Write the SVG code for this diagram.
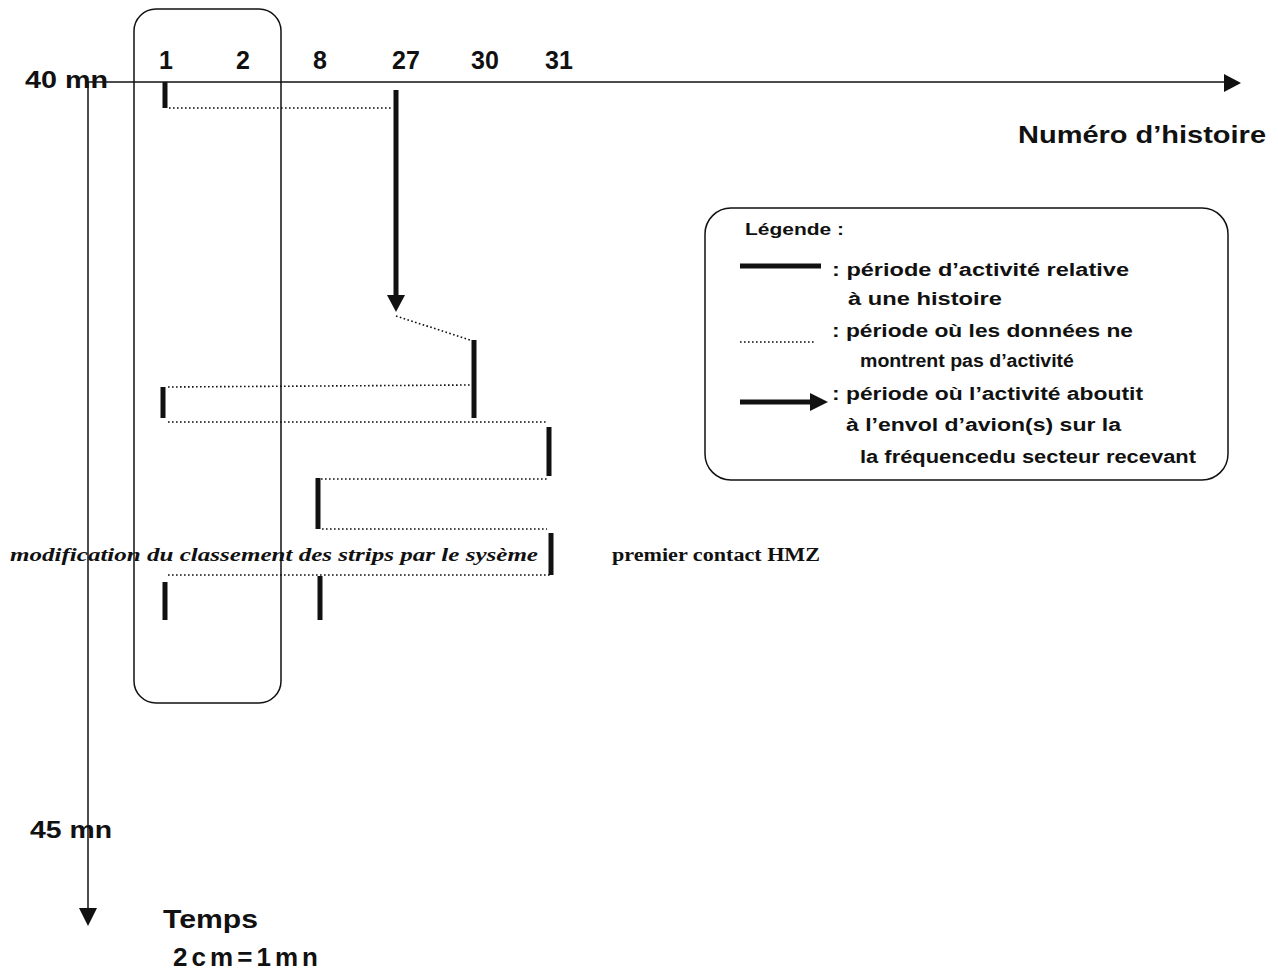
<svg xmlns="http://www.w3.org/2000/svg" width="1278" height="974" viewBox="0 0 1278 974">
<style>
.t{font-family:"Liberation Sans",Arial,sans-serif;font-weight:bold;fill:#111}
.s{font-family:"Liberation Serif","Times New Roman",serif;font-weight:bold;fill:#111}
.bar{stroke:#111;stroke-width:5;fill:none}
.dot{stroke:#111;stroke-width:1.6;stroke-dasharray:1.6 2.4;fill:none}
.thin{stroke:#111;stroke-width:1.5;fill:none}
</style>
<rect width="1278" height="974" fill="#fff"/>
<g id="axes">
<line class="thin" x1="88" y1="82" x2="1226" y2="82"/>
<path d="M1224,74 L1241,83 L1224,92 z" fill="#111"/>
<line class="thin" x1="88" y1="82" x2="88" y2="910"/>
<path d="M79,908 L97,908 L88,926 z" fill="#111"/>
<text class="t" x="25" y="88" font-size="24" textLength="83" lengthAdjust="spacingAndGlyphs">40 mn</text>
<text class="t" x="30" y="838" font-size="24" textLength="82" lengthAdjust="spacingAndGlyphs">45 mn</text>
<text class="t" x="1018" y="143" font-size="24" textLength="248" lengthAdjust="spacingAndGlyphs">Numéro d’histoire</text>
<text class="t" x="163" y="928" font-size="26" textLength="95" lengthAdjust="spacingAndGlyphs">Temps</text>
<text class="t" x="173" y="966" font-size="26" textLength="145" lengthAdjust="spacing">2cm=1mn</text>
</g>
<g id="labels" class="t" font-size="25" text-anchor="middle">
<text x="166" y="69">1</text>
<text x="243" y="69">2</text>
<text x="320" y="69">8</text>
<text x="406" y="69">27</text>
<text x="485" y="69">30</text>
<text x="559" y="69">31</text>
</g>
<g id="group-box">
<rect class="thin" x="134" y="9" width="147" height="694" rx="22"/>
</g>
<g id="connectors">
<line class="bar" x1="165" y1="82" x2="165" y2="108"/>
<line class="dot" x1="169" y1="108" x2="392" y2="108"/>
<line x1="396" y1="90" x2="396" y2="298" stroke="#111" stroke-width="5"/>
<path d="M387,295 L405,295 L396,312 z" fill="#111"/>
<line class="dot" x1="396" y1="316" x2="470" y2="340"/>
<line class="bar" x1="474" y1="340" x2="474" y2="418"/>
<line class="dot" x1="168" y1="387" x2="470" y2="385"/>
<line class="bar" x1="163" y1="387" x2="163" y2="418"/>
<line class="dot" x1="168" y1="422" x2="547" y2="422"/>
<line class="bar" x1="549" y1="427" x2="549" y2="476"/>
<line class="dot" x1="321" y1="479" x2="548" y2="479"/>
<line class="bar" x1="318" y1="478" x2="318" y2="529"/>
<line class="dot" x1="322" y1="529" x2="547" y2="529"/>
<line class="bar" x1="551" y1="533" x2="551" y2="575"/>
<line class="dot" x1="168" y1="575" x2="550" y2="575"/>
<line class="bar" x1="165" y1="582" x2="165" y2="620"/>
<line class="bar" x1="320" y1="576" x2="320" y2="620"/>
</g>
<g id="annotations">
<text class="s" x="10" y="561" font-size="18" font-style="italic" textLength="528" lengthAdjust="spacingAndGlyphs">modification du classement des strips par le sysème</text>
<text class="s" x="612" y="561" font-size="18" textLength="208" lengthAdjust="spacingAndGlyphs">premier contact HMZ</text>
</g>
<g id="legend">
<rect class="thin" x="705" y="208" width="523" height="272" rx="26"/>
<text class="t" x="745" y="235" font-size="17" textLength="99" lengthAdjust="spacingAndGlyphs">Légende :</text>
<line x1="740" y1="266" x2="821" y2="266" stroke="#111" stroke-width="5"/>
<line class="dot" x1="740" y1="342" x2="816" y2="342"/>
<line x1="740" y1="402" x2="812" y2="402" stroke="#111" stroke-width="5"/>
<path d="M810,393 L828,402 L810,411 z" fill="#111"/>
<g class="t" font-size="18">
<text x="832" y="276" textLength="297" lengthAdjust="spacingAndGlyphs">: période d’activité relative</text>
<text x="848" y="305" textLength="154" lengthAdjust="spacingAndGlyphs">à une histoire</text>
<text x="832" y="337" textLength="301" lengthAdjust="spacingAndGlyphs">: période où les données ne</text>
<text x="860" y="367" textLength="214" lengthAdjust="spacingAndGlyphs">montrent pas d’activité</text>
<text x="832" y="400" textLength="311" lengthAdjust="spacingAndGlyphs">: période où l’activité aboutit</text>
<text x="846" y="431" textLength="275" lengthAdjust="spacingAndGlyphs">à l’envol d’avion(s) sur la</text>
<text x="860" y="463" textLength="336" lengthAdjust="spacingAndGlyphs">la fréquencedu secteur recevant</text>
</g>
</g>
</svg>
